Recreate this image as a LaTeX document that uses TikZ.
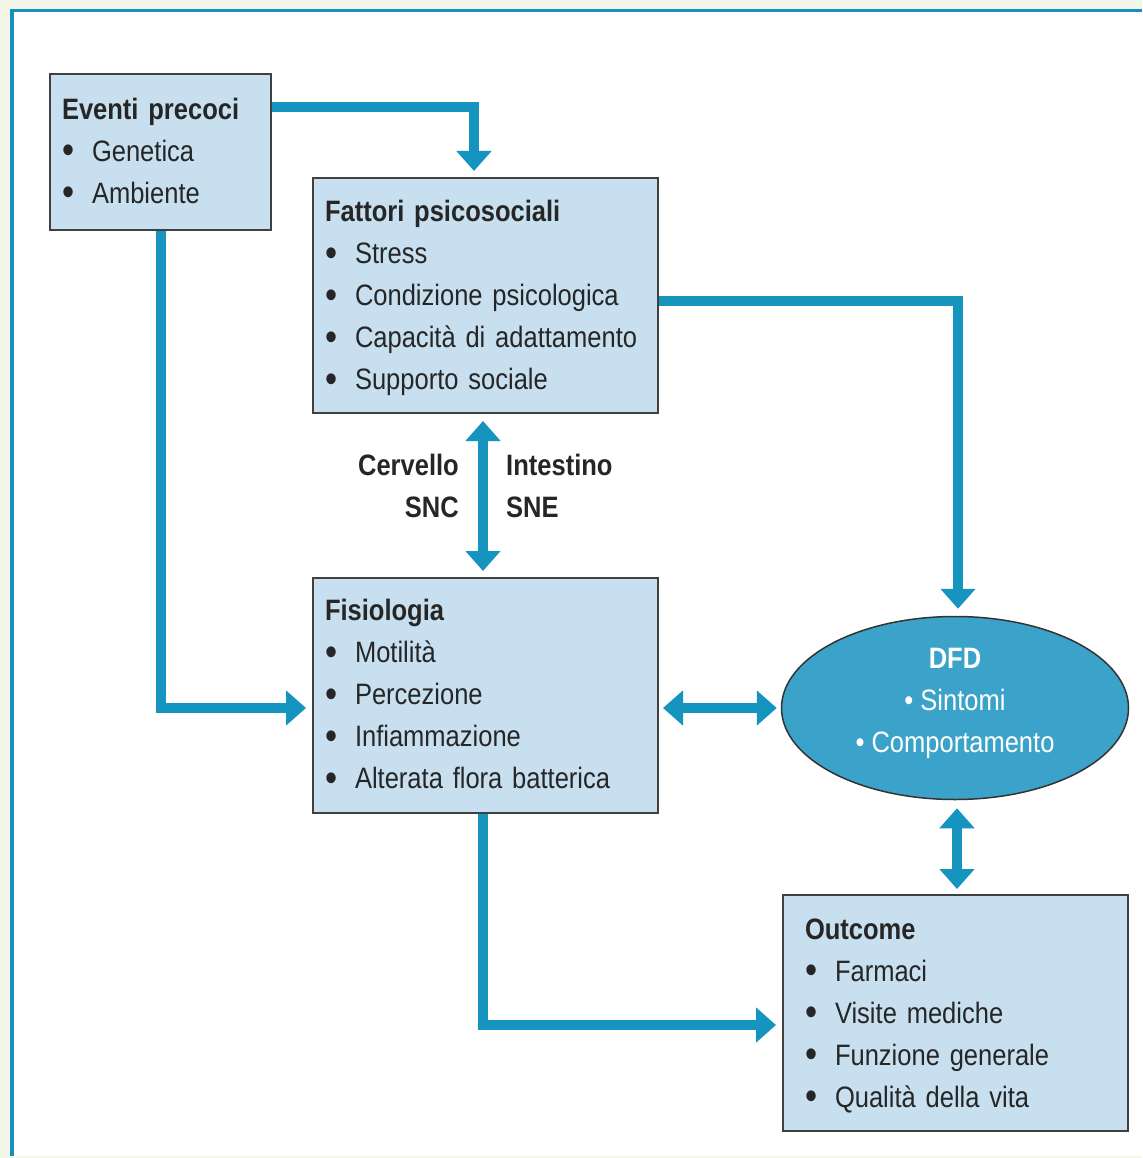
\documentclass[tikz,border=0pt]{standalone}
\usepackage{fontspec}
\setmainfont{Liberation Sans}[FakeStretch=0.865]
\usetikzlibrary{arrows.meta,calc,shapes.geometric}
\definecolor{conn}{HTML}{1494BF}
\definecolor{boxfill}{HTML}{C7DFEF}
\definecolor{boxborder}{HTML}{404040}
\definecolor{ellfill}{HTML}{3BA3C9}
\definecolor{frame}{HTML}{1A8EBF}
\definecolor{outerbg}{HTML}{F3F7E9}
\definecolor{txt}{HTML}{262626}
\newcommand\bul{\makebox[30pt][l]{\raisebox{-2.5pt}{\scalebox{1.35}{\textbullet}}}}
\newcommand\topstrut{\rule{0pt}{26.5pt}}
\begin{document}
\begin{tikzpicture}[x=1pt,y=-1pt,
  font=\fontsize{29.5}{42}\selectfont,
  infobox/.style={draw=boxborder, line width=2pt, fill=boxfill, rectangle,
    inner ysep=0pt, align=left, text=txt},
  link/.style={draw=conn, line width=10pt, line join=miter},
  tipend/.style={-{Triangle[width=34pt,length=20pt]}},
  tipboth/.style={{Triangle[width=34pt,length=20pt]}-{Triangle[width=34pt,length=20pt]}},
  lbl/.style={inner sep=0pt, text=txt, font=\fontsize{29.5}{42}\selectfont\bfseries}]

\useasboundingbox (0,0) rectangle (1142,1158);
\fill[outerbg] (0,0) rectangle (1142,1158);
\fill[white] (12,11) rectangle (1142,1156);
\draw[frame, line width=3.5pt] (12,1156) -- (12,10.5) -- (1142,10.5);

% boxes
\node[infobox, minimum width=221pt, minimum height=156pt, inner xsep=12pt, text width=197pt]
  (ev) at (160.5,152) {\textbf{Eventi precoci}\\\bul Genetica\\\bul Ambiente};
\node[infobox, minimum width=345pt, minimum height=235pt, inner xsep=12pt, text width=321pt]
  (fat) at (485.5,295.5) {\topstrut\textbf{Fattori psicosociali}\\\bul Stress\\\bul Condizione psicologica\\\bul Capacità di adattamento\\\bul Supporto sociale};
\node[infobox, minimum width=345pt, minimum height=235pt, inner xsep=12pt, text width=321pt]
  (fis) at (485.5,695.5) {\textbf{Fisiologia}\\\bul Motilità\\\bul Percezione\\\bul Infiammazione\\\bul Alterata flora batterica};
\node[infobox, minimum width=345pt, minimum height=236pt, inner xsep=22pt, text width=301pt]
  (out) at (955.5,1013) {\topstrut\textbf{Outcome}\\\bul Farmaci\\\bul Visite mediche\\\bul Funzione generale\\\bul Qualità della vita};
\node[ellipse, draw=black!80, line width=1.5pt, fill=ellfill, minimum width=347pt, minimum height=183pt, inner sep=0pt]
  (dfd) at (955,708) {};
\node[inner sep=0pt, align=center, text=white] (dfdtext) at (955,703.5)
  {\textbf{DFD}\\\textbullet\ Sintomi\\\textbullet\ Comportamento};

% labels
\node[lbl, anchor=east, align=right] (cerv) at (459,486) {Cervello\\SNC};
\node[lbl, anchor=west, align=left] (inte) at (506,486) {Intestino\\SNE};

% connectors
\draw[link, tipend] ($(ev.north east)+(0,34)$) -| ($(fat.north west)+(162,-6)$);
\draw[link, tipend] (ev.south) |- ($(fis.west)+(-6,12.5)$);
\draw[link, tipend] ($(fat.east)+(0,5)$) -| ($(dfd.north)+(3,-7)$);
\draw[link, tipboth] ($(fat.south)+(-2.5,7)$) -- ($(fis.north)+(-2.5,-6)$);
\draw[link, tipboth] ($(fis.east |- dfd.west)+(4,0)$) -- ($(dfd.west)+(-4,0)$);
\draw[link, tipboth] ($(dfd.south)+(2,8)$) -- ($(out.north)+(1.5,-5)$);
\draw[link, tipend] ($(fis.south)+(-2.5,0)$) |- ($(out.west)+(-6,12)$);
\end{tikzpicture}
\end{document}
